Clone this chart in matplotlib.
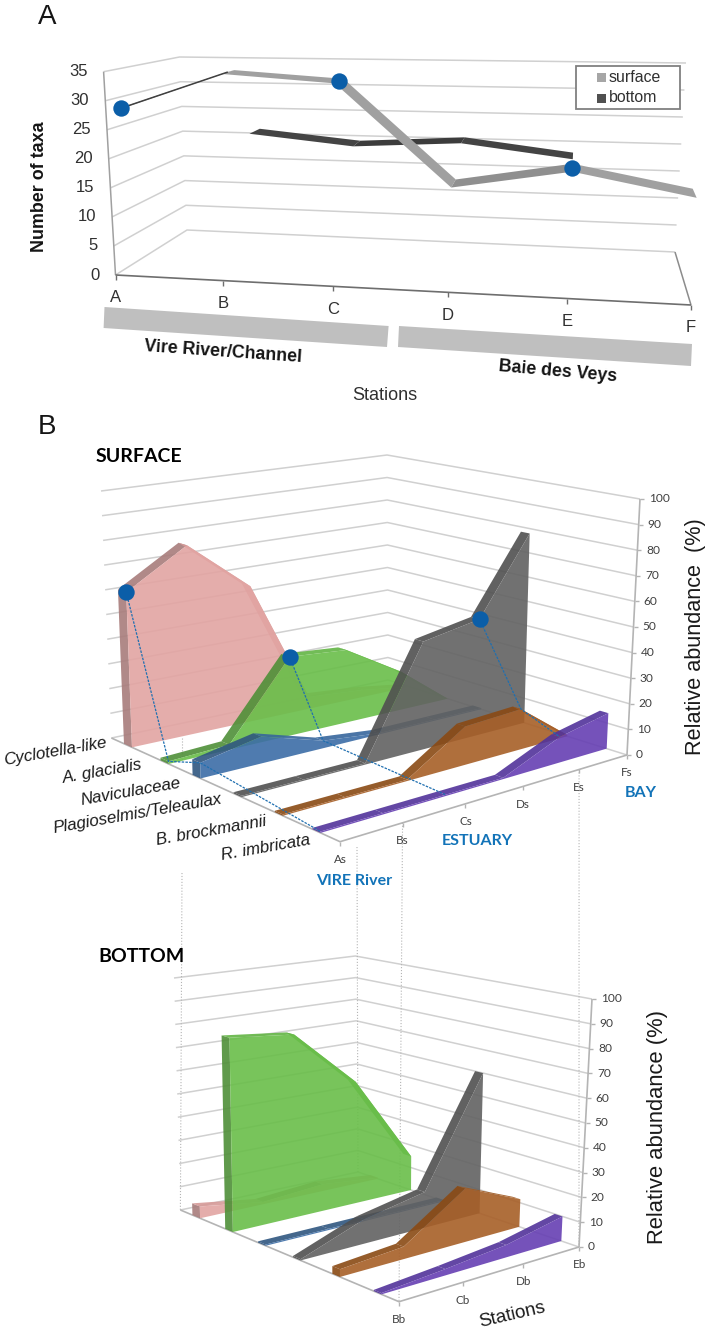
import numpy as np
import matplotlib
matplotlib.use("Agg")
import matplotlib.pyplot as plt
from matplotlib.patches import Polygon, Rectangle

# Panel A data
stations_a = ["A", "B", "C", "D", "E", "F"]
taxa_surface = [28, 35, 34, 17, 20.5, 17]
taxa_bottom_stations = [1, 2, 3, 4]
taxa_bottom = [22.5, 20.8, 22, 19.8]
taxa_dots = [0, 2, 4]
taxa_ticks = [0, 5, 10, 15, 20, 25, 30, 35]

# Panel B data
species = ["Cyclotella-like", "A. glacialis", "Naviculaceae",
           "Plagioselmis/Teleaulax", "B. brockmannii", "R. imbricata"]
stations_s = ["As", "Bs", "Cs", "Ds", "Es", "Fs"]
stations_b = ["Bb", "Cb", "Db", "Eb"]
abund_ticks = list(range(0, 101, 10))

surface_pink = [62, 77, 56, 5, 3, 0]
surface_green = [1, 2, 32, 30, 16, 0]
surface_blue = [6, 10.5, 3, 0.5, 0.5, 0.5]
surface_gray = [0.5, 0.5, 0.5, 43, 47, 78]
surface_orange = [0.5, 0.5, 0.5, 15, 16, 0.5]
surface_purple = [0.5, 0.5, 0.5, 0.5, 10, 14]

bottom_pink = [5, 1, 3, 0.5]
bottom_green = [81, 78, 53, 15]
bottom_blue = [0.5, 0.5, 0.5, 0.5]
bottom_gray = [0.5, 10, 15, 60]
bottom_orange = [3, 5, 22, 11.5]
bottom_purple = [0.5, 2.5, 5, 10]

# Layout: pixel corners of each pseudo 3D box (floor, then top)
BOX_A = dict(f00=(115.5, 275), f10=(691, 305), f01=(187, 230), f11=(675, 252),
             t00=(103.6, 71.7), t10=(706, 92), t01=(179.5, 57), t11=(686, 63), vmax=35)
BOX_S = dict(f00=(340, 841.7), f10=(627, 755), f01=(111.4, 738), f11=(388, 680),
             t00=(342, 560), t10=(640, 499), t01=(101, 491), t11=(387, 455), vmax=100)
BOX_B = dict(f00=(399, 1301.7), f10=(579, 1247), f01=(180.4, 1210), f11=(358, 1172),
             t00=(402, 1037), t10=(592, 999), t01=(174, 978), t11=(355.3, 956), vmax=100)

S_POS_A = [0, .187, .378, .577, .784, 1]
S_POS_S = [0, .218, .437, .638, .833, 1]
S_POS_B = [0, .354, .691, 1]
DEPTH_S = [.91, .75, .61, .43, .25, .085]
DEPTH_B = [.91, .76, .61, .45, .27, .08]
DEPTH_W = .035

FACE = ['#e2a4a2', '#69be49', '#3c6da6', '#626262', '#a75f27', '#663fb3']
DARK = ['#a87c7b', '#4f8f38', '#2f5680', '#505050', '#8a4a14', '#52339a']
LIGHT = ['#d69a98', '#63b545', '#37669c', '#5c5c5c', '#a05a22', '#603bab']

GRID = '#d0d0d0'
AXIS = '#b4b4b4'
DOT = '#0b5ea8'
LINK = '#1f6fb0'
LABEL_BLUE = '#1273b8'
SANS = 'Liberation Sans'
CAL = 'Lato'


def project(box, s, d, v=0):
    # bilinear on floor and top, then linear on height
    def plane(p):
        a = np.array(box[p + '00']) * (1 - s) * (1 - d)
        b = np.array(box[p + '10']) * s * (1 - d)
        c = np.array(box[p + '01']) * (1 - s) * d
        e = np.array(box[p + '11']) * s * d
        return a + b + c + e
    f = v / box['vmax']
    return plane('f') * (1 - f) + plane('t') * f


def poly(ax, pts, color, alpha=1.0, z=3):
    ax.add_patch(Polygon(pts, closed=True, facecolor=color, edgecolor='none', alpha=alpha, zorder=z))


def line(ax, pts, color=GRID, lw=1.1, ls='-', z=1):
    pts = np.array(pts)
    ax.plot(pts[:, 0], pts[:, 1], color=color, lw=lw, ls=ls, zorder=z, solid_capstyle='butt')


def draw_area(ax, box, s_pos, values, d0, i, z):
    d1 = d0 + DEPTH_W
    # left end face
    poly(ax, [project(box, 0, d0, 0), project(box, 0, d0, values[0]),
              project(box, 0, d1, values[0]), project(box, 0, d1, 0)], DARK[i], .9, z)
    for k in range(len(values) - 1):
        col = DARK[i] if values[k + 1] >= values[k] else LIGHT[i]
        poly(ax, [project(box, s_pos[k], d0, values[k]), project(box, s_pos[k + 1], d0, values[k + 1]),
                  project(box, s_pos[k + 1], d1, values[k + 1]), project(box, s_pos[k], d1, values[k])],
             col, .9, z)
    front = [project(box, s, d0, v) for s, v in zip(s_pos, values)]
    front += [project(box, s, d0, 0) for s in reversed(s_pos)]
    poly(ax, front, FACE[i], .9, z)


def draw_walls(ax, box, ticks):
    for v in ticks:
        line(ax, [project(box, 0, 1, v), project(box, 1, 1, v), project(box, 1, 0, v)])


def draw_panel(ax, box, s_pos, depths, series, labels, ticks):
    draw_walls(ax, box, ticks)
    line(ax, [project(box, 0, 1, 0), project(box, 0, 0, 0), project(box, 1, 0, 0)], AXIS, 1.2)
    line(ax, [project(box, 1, 0, 0), project(box, 1, 0, 100)], AXIS, 1.2)
    for v in ticks:
        x, y = project(box, 1, 0, v)
        line(ax, [(x, y), (x + 4, y)], AXIS, 1)
        ax.text(x + 9, y, str(v), family=CAL, fontsize=8.6, color='#404040', ha='left', va='center')
    for s, lab in zip(s_pos, labels):
        x, y = project(box, s, 0, 0)
        line(ax, [(x, y), (x, y + 4)], AXIS, 1)
        ax.text(x, y + 18, lab, family=CAL, fontsize=8.4, color='#404040', ha='center', va='center')
    for i, vals in enumerate(series):
        draw_area(ax, box, s_pos, vals, depths[i], i, 3 + i)


fig = plt.figure(figsize=(7.1, 13.36), dpi=100)
ax = fig.add_axes([0, 0, 1, 1])
ax.set_xlim(0, 710)
ax.set_ylim(1336, 0)
ax.axis('off')

# ---- Panel A ----
for v in taxa_ticks:
    line(ax, [project(BOX_A, 0, 0, v), project(BOX_A, 0, 1, v), project(BOX_A, 1, 1, v)])
    x, y = project(BOX_A, 0, 0, v)
    ax.text(x - 16, y, str(v), family=SANS, fontsize=12, color='#303030', ha='right', va='center')
line(ax, [project(BOX_A, 0, 0, 0), project(BOX_A, 0, 0, 35)], '#a0a0a0', 1.1)
line(ax, [project(BOX_A, 1, 1, 0), project(BOX_A, 1, 0, 0)], '#8c8c8c', 1.1)
line(ax, [project(BOX_A, 0, 0, 0), project(BOX_A, 1, 0, 0)], '#6e6e6e', 1.2)
for s, lab in zip(S_POS_A, stations_a):
    x, y = project(BOX_A, s, 0, 0)
    line(ax, [(x, y), (x, y + 5)], '#6e6e6e', 1)
    ax.text(x, y + 23, lab, family=SANS, fontsize=12, color='#303030', ha='center', va='center')


def ribbon(s_list, vals, d0, d1, up, down, z):
    for k in range(len(vals) - 1):
        col = up if vals[k + 1] >= vals[k] else down
        poly(ax, [project(BOX_A, s_list[k], d0, vals[k]), project(BOX_A, s_list[k + 1], d0, vals[k + 1]),
                  project(BOX_A, s_list[k + 1], d1, vals[k + 1]), project(BOX_A, s_list[k], d1, vals[k])],
             col, 1, z)


ribbon([S_POS_A[k] for k in taxa_bottom_stations], taxa_bottom, .54, .72, '#3c3c3c', '#444444', 3)
ribbon(S_POS_A, taxa_surface, .09, .31, '#8f8f8f', '#a0a0a0', 4)
# the first surface segment is seen edge on, so it reads as a dark line
line(ax, [project(BOX_A, S_POS_A[0], .2, taxa_surface[0]), project(BOX_A, S_POS_A[1], .2, taxa_surface[1])],
     '#404040', 1.1, '-', 5)
for k in taxa_dots:
    x, y = project(BOX_A, S_POS_A[k], .2, taxa_surface[k])
    ax.plot(x, y, 'o', ms=11.8, color=DOT, mec='none', zorder=6)

ax.add_patch(Rectangle((576, 66), 104, 43, facecolor='white', edgecolor='#808080', lw=1.3, zorder=5))
ax.add_patch(Rectangle((596.5, 73), 9, 9, facecolor='#a6a6a6', edgecolor='none', zorder=6))
ax.add_patch(Rectangle((596.5, 94), 9, 9, facecolor='#505050', edgecolor='none', zorder=6))
ax.text(609, 77, 'surface', family=SANS, fontsize=11.4, color='#303030', va='center', zorder=6)
ax.text(609, 98, 'bottom', family=SANS, fontsize=11.4, color='#303030', va='center', zorder=6)

poly(ax, [(104.5, 307), (388.6, 326), (387, 347), (103.6, 328)], '#bfbfbf', 1, 2)
poly(ax, [(399, 326), (692, 344), (691, 366), (398, 347)], '#bfbfbf', 1, 2)
ax.text(223, 352, 'Vire River/Channel', family=SANS, fontsize=12.8, fontweight='bold', rotation=-4,
        ha='center', va='center', rotation_mode='anchor', color='#151515')
ax.text(558, 372, 'Baie des Veys', family=SANS, fontsize=12.8, fontweight='bold', rotation=-5,
        ha='center', va='center', rotation_mode='anchor', color='#151515')
ax.text(385, 396, 'Stations', family=SANS, fontsize=13, ha='center', va='center', color='#303030')
ax.text(40, 187, 'Number of taxa', family=SANS, fontsize=12.9, fontweight='bold', rotation=90,
        ha='center', va='center', color='#151515')
ax.text(47, 17, 'A', family=SANS, fontsize=20, ha='center', va='center', color='#151515')

# ---- Panel B ----
ax.text(47, 427, 'B', family=SANS, fontsize=20, ha='center', va='center', color='#151515')
ax.text(139, 456, 'SURFACE', family=CAL, fontsize=14, fontweight='bold', ha='center', va='center', color='black')
ax.text(141.5, 956, 'BOTTOM', family=CAL, fontsize=14, fontweight='bold', ha='center', va='center', color='black')

series_s = [surface_pink, surface_green, surface_blue, surface_gray, surface_orange, surface_purple]
series_b = [bottom_pink, bottom_green, bottom_blue, bottom_gray, bottom_orange, bottom_purple]
draw_panel(ax, BOX_S, S_POS_S, DEPTH_S, series_s, stations_s, abund_ticks)
draw_panel(ax, BOX_B, S_POS_B, DEPTH_B, series_b, stations_b, abund_ticks)

# station links drawn on the surface chart: station index, then the series it goes through
links = [(0, [0, 1, 2, 5]), (2, [1, 2, 5]), (4, [3, 4, 5])]
for st, chain in links:
    pts = [project(BOX_S, S_POS_S[st], DEPTH_S[i], series_s[i][st]) for i in chain]
    line(ax, pts, LINK, .9, (0, (2, 1)), 12)
    ax.plot(pts[0][0], pts[0][1], 'o', ms=11.8, color=DOT, mec='none', zorder=13)

# dotted guides joining the two charts
guides = [((182, 873), project(BOX_B, 0, 1, 0)),
          ((357, 847), project(BOX_B, 1, 1, 0)),
          (project(BOX_S, S_POS_S[1], 0, 0), project(BOX_B, 0, 0, 0)),
          (project(BOX_S, S_POS_S[4], 0, 0), project(BOX_B, 1, 0, 0)),
          ((182, 738), (182, 760))]
for a, b in guides:
    line(ax, [a, b], '#b4b4b4', .8, ':', 2)

label_pos = [(55, 752), (102, 772), (131, 792), (137, 814), (211, 831), (266, 848)]
for lab, (x, y) in zip(species, label_pos):
    ax.text(x, y, lab, family=SANS, fontsize=12.2, style='italic', rotation=10, ha='center', va='center',
            rotation_mode='anchor', color='#1a1a1a', zorder=14)

ax.text(641, 793, 'BAY', family=CAL, fontsize=11.5, fontweight='bold', color=LABEL_BLUE, ha='center', va='center')
ax.text(477, 841, 'ESTUARY', family=CAL, fontsize=11.5, fontweight='bold', color=LABEL_BLUE, ha='center', va='center')
ax.text(354, 881, 'VIRE River', family=CAL, fontsize=11.5, fontweight='bold', color=LABEL_BLUE, ha='center', va='center')
ax.text(695, 637, 'Relative abundance  (%)', family=SANS, fontsize=15.6, rotation=90, ha='center', va='center', color='#1a1a1a')
ax.text(657, 1127, 'Relative abundance (%)', family=SANS, fontsize=15.8, rotation=90, ha='center', va='center', color='#1a1a1a')
ax.text(512, 1315, 'Stations', family=SANS, fontsize=13.5, rotation=13, ha='center', va='center',
        rotation_mode='anchor', color='#1a1a1a')

fig.savefig('out.png', dpi=100)
